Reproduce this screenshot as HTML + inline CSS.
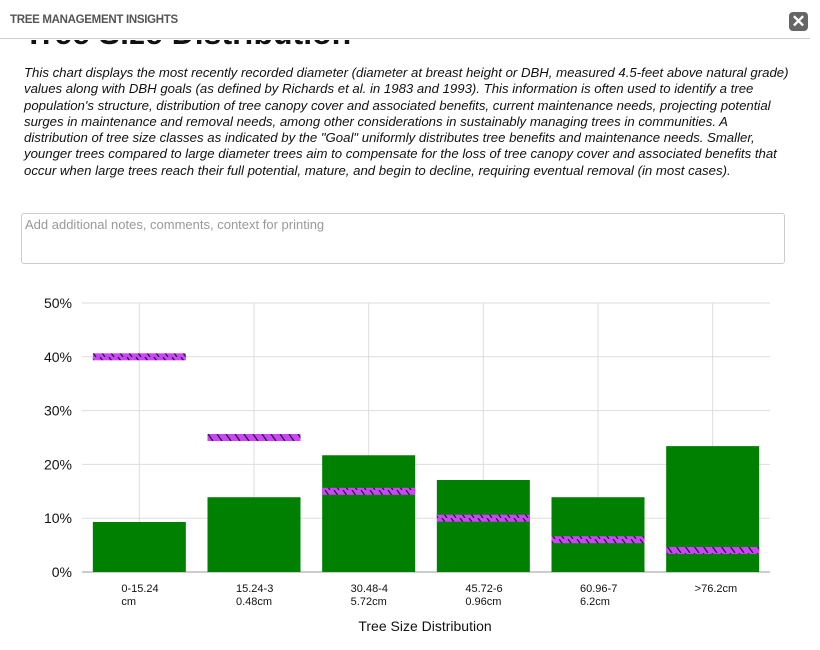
<!DOCTYPE html>
<html><head><meta charset="utf-8"><style>
body{margin:0;width:820px;height:650px;background:#fff;font-family:"Liberation Sans",sans-serif;position:relative;overflow:hidden}
#hdr{position:absolute;left:0;top:0;width:810px;height:38px;border-bottom:1px solid #ccc}
#hdr span{position:absolute;left:10px;top:14px;font-size:11.5px;font-weight:bold;color:#555;letter-spacing:-0.3px}
#close{position:absolute;left:789px;top:12px;width:19px;height:19px;background:#666;border-radius:4px;color:#fff;font-size:17px;font-weight:bold;line-height:19px;text-align:center}
#clip{position:absolute;left:0;top:40px;width:820px;height:20px;overflow:hidden}
#title{position:absolute;left:24px;top:-25px;font-size:32px;font-weight:bold;color:#111;white-space:nowrap}
#desc{position:absolute;left:24px;top:65px;width:770px;font-size:13.2px;font-style:italic;line-height:16.3px;color:#111}
#notes{position:absolute;left:21px;top:213px;width:764px;height:51px;border:1px solid #ccc;border-radius:3px;box-sizing:border-box;padding:3px 3px;font-size:13px;color:#999}
</style></head><body>
<div id="hdr"><span>TREE MANAGEMENT INSIGHTS</span></div>
<div id="close">✕</div>
<div id="clip"><div id="title">Tree Size Distribution</div></div>
<div id="desc">This chart displays the most recently recorded diameter (diameter at breast height or DBH, measured 4.5-feet above natural grade) values along with DBH goals (as defined by Richards et al. in 1983 and 1993). This information is often used to identify a tree population's structure, distribution of tree canopy cover and associated benefits, current maintenance needs, projecting potential surges in maintenance and removal needs, among other considerations in sustainably managing trees in communities. A distribution of tree size classes as indicated by the "Goal" uniformly distributes tree benefits and maintenance needs. Smaller, younger trees compared to large diameter trees aim to compensate for the loss of tree canopy cover and associated benefits that occur when large trees reach their full potential, mature, and begin to decline, requiring eventual removal (in most cases).</div>
<div id="notes">Add additional notes, comments, context for printing</div>
<svg id="chart" width="820" height="650" style="position:absolute;left:0;top:0">
<defs><pattern id="hatch" width="9" height="7" patternUnits="userSpaceOnUse"><rect width="9" height="7" fill="#cc44ff"/><path d="M1,0 L6,7" stroke="#222" stroke-width="1.3"/></pattern></defs>
<g id="grid"></g><g id="bars"></g><g id="labels"></g>
<text x="425" y="631" text-anchor="middle" font-size="14" fill="#111">Tree Size Distribution</text>
</svg>
<script>
const categories=[["0-15.24","cm"],["15.24-3","0.48cm"],["30.48-4","5.72cm"],["45.72-6","0.96cm"],["60.96-7","6.2cm"],[">76.2cm",""]];
const actual=[9.3,13.9,21.7,17.1,13.9,23.4];
const goals=[40,25,15,10,6,4];
const yTicks=[0,10,20,30,40,50];
const tickLabels=["0%","10%","20%","30%","40%","50%"];
const NS="http://www.w3.org/2000/svg";
const X0=82,X1=770,Y0=572,Y1=303,YMAX=50;
const band=(X1-X0)/categories.length;
const y=v=>Y0-(v/YMAX)*(Y0-Y1);
const xc=i=>X0+band*(i+0.5);
function mk(tag,attrs,parent){const e=document.createElementNS(NS,tag);for(const k in attrs)e.setAttribute(k,attrs[k]);parent.appendChild(e);return e;}
const g=document.getElementById('grid'),b=document.getElementById('bars'),l=document.getElementById('labels');
yTicks.forEach((t,i)=>{
 const ln=mk('line',{x1:X0,x2:X1,y1:y(t),y2:y(t),stroke:t===0?'#999':'#ddd','stroke-width':1},g);
 
 
 const tx=mk('text',{x:72,y:y(t)+5,'text-anchor':'end','font-size':14,fill:'#111'},l);
 tx.textContent=tickLabels[i];
 
 
});
categories.forEach((c,i)=>{
 const vl=mk('line',{x1:xc(i),x2:xc(i),y1:Y1,y2:Y0,stroke:'#ddd','stroke-width':1},g);
 
 
 const bw=93;
 const r=mk('rect',{x:xc(i)-bw/2,y:y(actual[i]),width:bw,height:Y0-y(actual[i]),fill:'#008000'},b);
 
 
 const gr=mk('rect',{x:xc(i)-bw/2,y:y(goals[i])-3.5,width:bw,height:7,fill:'url(#hatch)'},b);
 
 
 c.forEach((s,j)=>{
  const t=mk('text',{x:xc(i)-18,y:592+j*13,'font-size':11,fill:'#111'},l);
  t.textContent=s;
  
  
 });
});
</script>
</body></html>
